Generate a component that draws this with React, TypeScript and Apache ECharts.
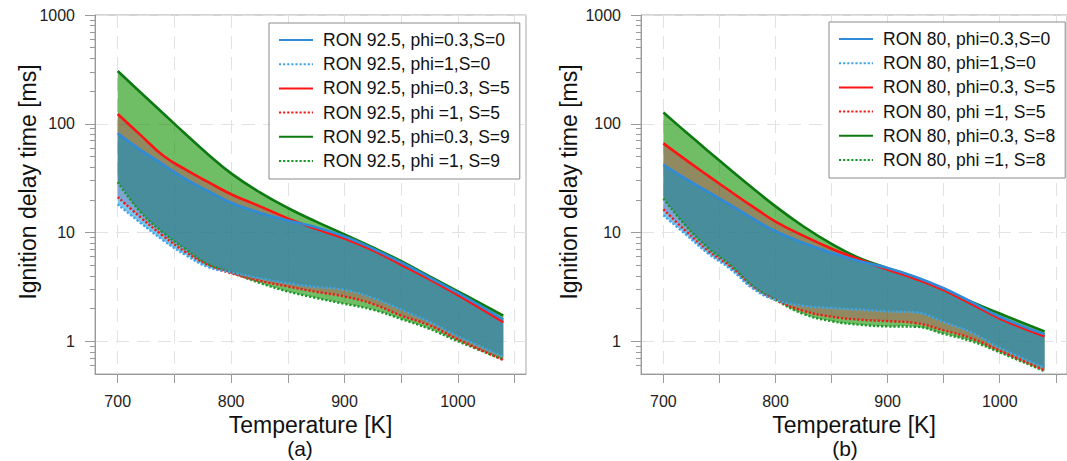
import { useEffect, useRef } from 'react';
import * as echarts from 'echarts';

// Temperatures [K] at which the curves are read
const temps = [700, 720, 740, 760, 780, 800, 825, 850, 875, 900, 925, 950, 975, 1000, 1040];

// Panel (a): RON 92.5 — ignition delay time [ms]
const a_phi03_S0 = [81.7, 57.5, 42.2, 30.9, 24, 18.8, 15.2, 12.9, 11.2, 9.2, 7.1, 5.3, 3.85, 2.78, 1.58];
const a_phi1_S0 = [18.2, 12.3, 8.5, 6.2, 4.8, 4.3, 3.8, 3.42, 3.15, 2.97, 2.5, 1.95, 1.5, 1.11, 0.72];
const a_phi03_S5 = [123, 79, 51, 37.8, 29, 22.5, 17.5, 13.5, 10.8, 8.8, 6.85, 5.05, 3.7, 2.65, 1.5];
const a_phi1_S5 = [21.2, 13.8, 9.3, 6.6, 5.0, 4.22, 3.6, 3.19, 2.85, 2.58, 2.2, 1.72, 1.4, 1.04, 0.67];
const a_phi03_S9 = [306, 195, 125, 80, 52, 35, 23.5, 16.8, 12.6, 9.6, 7.3, 5.45, 3.95, 2.88, 1.72];
const a_phi1_S9 = [29.1, 15.5, 10, 7.0, 5.1, 4.3, 3.45, 2.87, 2.5, 2.21, 1.95, 1.6, 1.3, 1.0, 0.68];

// Panel (b): RON 80 — ignition delay time [ms]
const b_phi03_S0 = [42, 31.2, 23.6, 17.9, 13.4, 10.3, 8.0, 6.5, 5.45, 4.72, 3.9, 3.07, 2.29, 1.68, 1.16];
const b_phi1_S0 = [14.4, 9.6, 6.4, 4.6, 3.05, 2.4, 2.12, 2.02, 1.95, 1.88, 1.84, 1.5, 1.2, 0.87, 0.57];
const b_phi03_S5 = [66, 46.5, 33.2, 23.8, 17.2, 12.6, 9.3, 7.1, 5.65, 4.57, 3.74, 2.95, 2.2, 1.62, 1.11];
const b_phi1_S5 = [16.3, 10.3, 6.7, 4.8, 3.1, 2.4, 1.9, 1.68, 1.58, 1.53, 1.47, 1.26, 1.06, 0.82, 0.54];
const b_phi03_S8 = [127, 84, 56, 37.6, 25.4, 17.4, 11.35, 7.85, 5.8, 4.7, 3.85, 3.0, 2.3, 1.8, 1.23];
const b_phi1_S8 = [20.5, 11.5, 7.2, 5.0, 3.2, 2.4, 1.78, 1.53, 1.42, 1.37, 1.36, 1.17, 1.0, 0.79, 0.53];

const namesA = [
  'RON 92.5, phi=0.3,S=0',
  'RON 92.5, phi=1,S=0',
  'RON 92.5, phi=0.3, S=5',
  'RON 92.5, phi =1, S=5',
  'RON 92.5, phi=0.3, S=9',
  'RON 92.5, phi =1, S=9',
];
const namesB = [
  'RON 80, phi=0.3,S=0',
  'RON 80, phi=1,S=0',
  'RON 80, phi=0.3, S=5',
  'RON 80, phi =1, S=5',
  'RON 80, phi=0.3, S=8',
  'RON 80, phi =1, S=8',
];

const xTicks = [700, 750, 800, 850, 900, 950, 1000, 1050];
const xLabels = [700, 800, 900, 1000];
const yMajor = [1, 10, 100, 1000];
const yMinor = [0.6, 0.7, 0.8, 0.9, 2, 3, 4, 5, 6, 7, 8, 9, 20, 30, 40, 50, 60, 70, 80, 90, 200, 300, 400, 500, 600, 700, 800, 900];

const FONT = 'Liberation Sans, Arial, Helvetica, sans-serif';
const SMOOTH = 0.45;

const BLUE = '#2f8bd8';
const BLUE_DOT = '#3ea6e8';
const RED = '#ff1414';
const RED_DOT = '#f01a1a';
const GREEN = '#0c7a10';
const GREEN_DOT = '#1c962a';

const FILL_GREEN = 'rgba(15,147,0,0.6)';
const FILL_RED = 'rgba(235,0,82,0.28)';
const FILL_BLUE = 'rgba(0,145,215,0.5)';

const fmt = (v: number) => String(+Number(v).toPrecision(6));

function fillSeries(upper: number[], lower: number[], fill: string, gi: number) {
  return {
    type: 'custom',
    xAxisIndex: gi,
    yAxisIndex: gi * 2,
    silent: true,
    data: temps.map((t, i) => [t, upper[i], lower[i]]),
    encode: { x: 0, y: [1, 2] },
    renderItem: (params: any, api: any) => {
      if (params.dataIndex !== 0) return null;
      const up = temps.map((t, i) => api.coord([t, upper[i]]));
      const lo = temps.map((t, i) => api.coord([t, lower[i]])).reverse();
      const pts = [up[0], ...up, up[up.length - 1], lo[0], ...lo, lo[lo.length - 1]];
      return {
        type: 'polygon',
        shape: { points: pts, smooth: SMOOTH },
        style: { fill },
      };
    },
  };
}

function lineSeries(name: string, values: number[], color: string, dotted: boolean, gi: number) {
  return {
    type: 'line',
    name,
    xAxisIndex: gi,
    yAxisIndex: gi * 2,
    symbol: 'none',
    smooth: SMOOTH,
    silent: true,
    data: temps.map((t, i) => [t, values[i]]),
    lineStyle: dotted ? { color, width: 2.4, type: [2.2, 1.9] } : { color, width: 2.6 },
    itemStyle: { color },
  };
}

function band(
  upperName: string,
  lowerName: string,
  upper: number[],
  lower: number[],
  lineColor: string,
  dotColor: string,
  fill: string,
  gi: number
) {
  return [
    fillSeries(upper, lower, fill, gi),
    lineSeries(lowerName, lower, dotColor, true, gi),
    lineSeries(upperName, upper, lineColor, false, gi),
  ];
}

function xAxis(gi: number) {
  return {
    type: 'value',
    gridIndex: gi,
    min: 680,
    max: 1060,
    axisLine: { show: true, lineStyle: { color: '#9a9a9a', width: 1 } },
    axisTick: { show: true, customValues: xTicks, length: 9, lineStyle: { color: '#9a9a9a' } },
    axisLabel: { customValues: xLabels, margin: 19, fontSize: 16, color: '#222', fontFamily: FONT, formatter: fmt },
    splitLine: { show: true, lineStyle: { color: '#e2e2e2', type: [13, 8], width: 1 } },
    name: 'Temperature [K]',
    nameLocation: 'middle',
    nameGap: 38,
    nameTextStyle: { fontSize: 23, color: '#111', fontFamily: FONT },
  };
}

function yAxes(gi: number) {
  return [
    {
      type: 'log',
      logBase: 10,
      gridIndex: gi,
      position: 'left',
      min: 0.5,
      max: 1000,
      axisLine: { show: true, lineStyle: { color: '#9a9a9a', width: 1 } },
      axisTick: { show: true, customValues: yMajor, length: 10, lineStyle: { color: '#9a9a9a' } },
      axisLabel: { customValues: yMajor, margin: 20, fontSize: 16, color: '#222', fontFamily: FONT, formatter: fmt },
      splitLine: { show: true, lineStyle: { color: '#e2e2e2', type: [13, 8], width: 1 } },
    },
    {
      type: 'log',
      logBase: 10,
      gridIndex: gi,
      position: 'left',
      offset: 0,
      min: 0.5,
      max: 1000,
      axisLine: { show: false },
      axisTick: { show: true, customValues: yMinor, length: 5, lineStyle: { color: '#9a9a9a' } },
      axisLabel: { show: false },
      splitLine: { show: false },
    },
  ];
}

function legend(left: number, top: number, names: string[]) {
  return {
    orient: 'vertical',
    left,
    top,
    padding: [8, 10, 9, 9],
    itemWidth: 34,
    itemHeight: 14,
    itemGap: 6.2,
    backgroundColor: '#ffffff',
    borderColor: '#8a8a8a',
    borderWidth: 1,
    selectedMode: false,
    itemStyle: { opacity: 0 },
    textStyle: { fontSize: 17.5, lineHeight: 18, color: '#111', fontFamily: FONT, padding: [0, 0, 0, 5] },
    data: names,
  };
}

export default function App() {
  const ref = useRef<HTMLDivElement>(null);

  useEffect(() => {
    if (!ref.current) return;
    const chart = echarts.init(ref.current, undefined, { renderer: 'svg' });
    const option = {
      animation: false,
      backgroundColor: '#ffffff',
      grid: [
        { left: 95, top: 15, width: 431, height: 359, show: true, borderColor: '#a8a8a8', borderWidth: 1, backgroundColor: 'transparent' },
        { left: 641, top: 15, width: 430, height: 359, show: true, borderColor: '#a8a8a8', borderWidth: 1, backgroundColor: 'transparent' },
      ],
      xAxis: [xAxis(0), xAxis(1)],
      yAxis: [...yAxes(0), ...yAxes(1)],
      legend: [legend(269, 23, namesA), legend(829, 22, namesB)],
      series: [
        ...band(namesA[4], namesA[5], a_phi03_S9, a_phi1_S9, GREEN, GREEN_DOT, FILL_GREEN, 0),
        ...band(namesA[2], namesA[3], a_phi03_S5, a_phi1_S5, RED, RED_DOT, FILL_RED, 0),
        ...band(namesA[0], namesA[1], a_phi03_S0, a_phi1_S0, BLUE, BLUE_DOT, FILL_BLUE, 0),
        ...band(namesB[4], namesB[5], b_phi03_S8, b_phi1_S8, GREEN, GREEN_DOT, FILL_GREEN, 1),
        ...band(namesB[2], namesB[3], b_phi03_S5, b_phi1_S5, RED, RED_DOT, FILL_RED, 1),
        ...band(namesB[0], namesB[1], b_phi03_S0, b_phi1_S0, BLUE, BLUE_DOT, FILL_BLUE, 1),
      ],
      graphic: [
        {
          type: 'text',
          x: 28,
          y: 182,
          rotation: Math.PI / 2,
          style: { text: 'Ignition delay time [ms]', fontSize: 23, fill: '#111', fontFamily: FONT, align: 'center', verticalAlign: 'middle' },
        },
        {
          type: 'text',
          x: 569,
          y: 182,
          rotation: Math.PI / 2,
          style: { text: 'Ignition delay time [ms]', fontSize: 23, fill: '#111', fontFamily: FONT, align: 'center', verticalAlign: 'middle' },
        },
        {
          type: 'text',
          x: 300,
          y: 448,
          style: { text: '(a)', fontSize: 21, fill: '#111', fontFamily: FONT, align: 'center', verticalAlign: 'middle' },
        },
        {
          type: 'text',
          x: 845,
          y: 448,
          style: { text: '(b)', fontSize: 21, fill: '#111', fontFamily: FONT, align: 'center', verticalAlign: 'middle' },
        },
      ],
    };
    chart.setOption(option as any);
    return () => chart.dispose();
  }, []);

  return (
    <div
      ref={ref}
      style={{ position: 'absolute', left: 0, top: 0, width: 1067, height: 461, overflow: 'hidden' }}
    />
  );
}
